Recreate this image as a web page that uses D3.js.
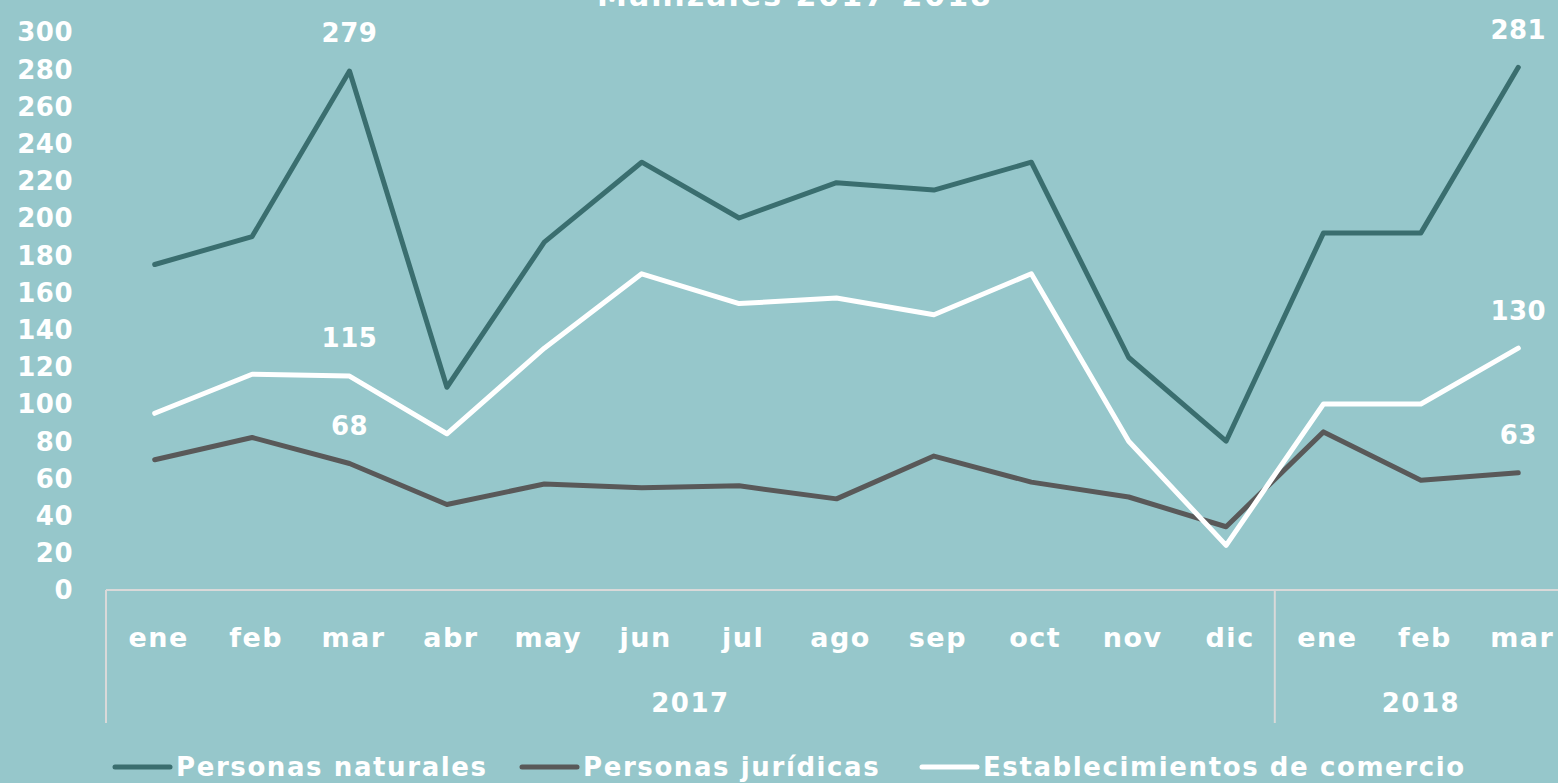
<!DOCTYPE html>
<html>
<head>
<meta charset="utf-8">
<script src="https://cdn.jsdelivr.net/npm/d3@7"></script>
<style>
  body { margin: 0; background: #96C7CB; }
  svg text { font-family: "DejaVu Sans", sans-serif; font-weight: bold; fill: #fff; }
</style>
</head>
<body>
<svg id="chart" width="1558" height="783"></svg>
<script>
var months = ['ene','feb','mar','abr','may','jun','jul','ago','sep','oct','nov','dic','ene','feb','mar'];
var years = [['2017', 0, 12], ['2018', 12, 15]];
var naturales = [175, 190, 279, 109, 187, 230, 200, 219, 215, 230, 125, 80, 192, 192, 281];
var juridicas = [70, 82, 68, 46, 57, 55, 56, 49, 72, 58, 50, 34, 85, 59, 63];
var establecimientos = [95, 116, 115, 84, 130, 170, 154, 157, 148, 170, 80, 24, 100, 100, 130];
var yTicks = d3.range(0, 301, 20);
var labelIdx = [2, 14];

var series = [
  {name: 'Personas naturales', values: naturales, color: '#3A6E6F'},
  {name: 'Personas jurídicas', values: juridicas, color: '#595959'},
  {name: 'Establecimientos de comercio', values: establecimientos, color: '#ffffff'}
];

var svg = d3.select('#chart');
var width = +svg.attr('width'), height = +svg.attr('height');
svg.append('rect').attr('width', width).attr('height', height).attr('fill', '#96C7CB');

var x = d3.scaleBand().domain(d3.range(months.length)).range([106, 1567]);
var y = d3.scaleLinear().domain([0, 300]).range([590, 32]);

// title, mostly cut off at the top
svg.append('text').attr('x', 795).attr('y', 6).attr('text-anchor', 'middle')
  .style('font-size', '30px').style('letter-spacing', '2px').text('Manizales 2017-2018');

// y labels
svg.selectAll('.ytick').data(yTicks).enter().append('text')
  .attr('class', 'ytick')
  .attr('x', 73).attr('y', d => y(d)).attr('dy', '0.36em')
  .attr('text-anchor', 'end').style('font-size', '26px').style('letter-spacing', '0.5px')
  .text(d => d);

// category axis
svg.append('line').attr('x1', 106).attr('x2', 1567).attr('y1', 590).attr('y2', 590)
  .attr('stroke', '#D9D9D9').attr('stroke-width', 2);
var seps = [0, 12];
svg.selectAll('.sep').data(seps).enter().append('line')
  .attr('x1', d => x(d)).attr('x2', d => x(d)).attr('y1', 590).attr('y2', 723)
  .attr('stroke', '#D9D9D9').attr('stroke-width', 2);

svg.selectAll('.mlab').data(months).enter().append('text')
  .attr('x', (d, i) => x(i) + x.bandwidth() / 2 + 4).attr('y', 637).attr('dy', '0.36em')
  .attr('text-anchor', 'middle').style('font-size', '27px').style('letter-spacing', '1.5px')
  .text(d => d);

svg.selectAll('.ylab').data(years).enter().append('text')
  .attr('x', d => (x(d[1]) + x(d[2] - 1) + x.bandwidth()) / 2).attr('y', 703).attr('dy', '0.36em')
  .attr('text-anchor', 'middle').style('font-size', '26px').style('letter-spacing', '1.5px')
  .text(d => d[0]);

// lines
var line = d3.line().x((d, i) => x(i) + x.bandwidth() / 2).y(d => y(d));
svg.selectAll('.series').data(series).enter().append('path')
  .attr('d', d => line(d.values))
  .attr('fill', 'none').attr('stroke', d => d.color).attr('stroke-width', 5)
  .attr('stroke-linejoin', 'round').attr('stroke-linecap', 'round');

// data labels
series.forEach(function(s) {
  svg.selectAll(null).data(labelIdx).enter().append('text')
    .attr('x', i => x(i) + x.bandwidth() / 2).attr('y', i => y(s.values[i]) - 38).attr('dy', '0.36em')
    .attr('text-anchor', 'middle').style('font-size', '26px').style('letter-spacing', '0.5px')
    .text(i => s.values[i]);
});

// legend
var legX = [115, 522, 922];
var leg = svg.selectAll('.leg').data(series).enter().append('g')
  .attr('transform', (d, i) => 'translate(' + legX[i] + ',767)');
leg.append('line').attr('x1', 0).attr('x2', 55)
  .attr('stroke', d => d.color).attr('stroke-width', 5).attr('stroke-linecap', 'round');
leg.append('text').attr('x', 61).attr('dy', '0.36em').style('font-size', '26px').style('letter-spacing', '1.6px')
  .text(d => d.name);
</script>
</body>
</html>
